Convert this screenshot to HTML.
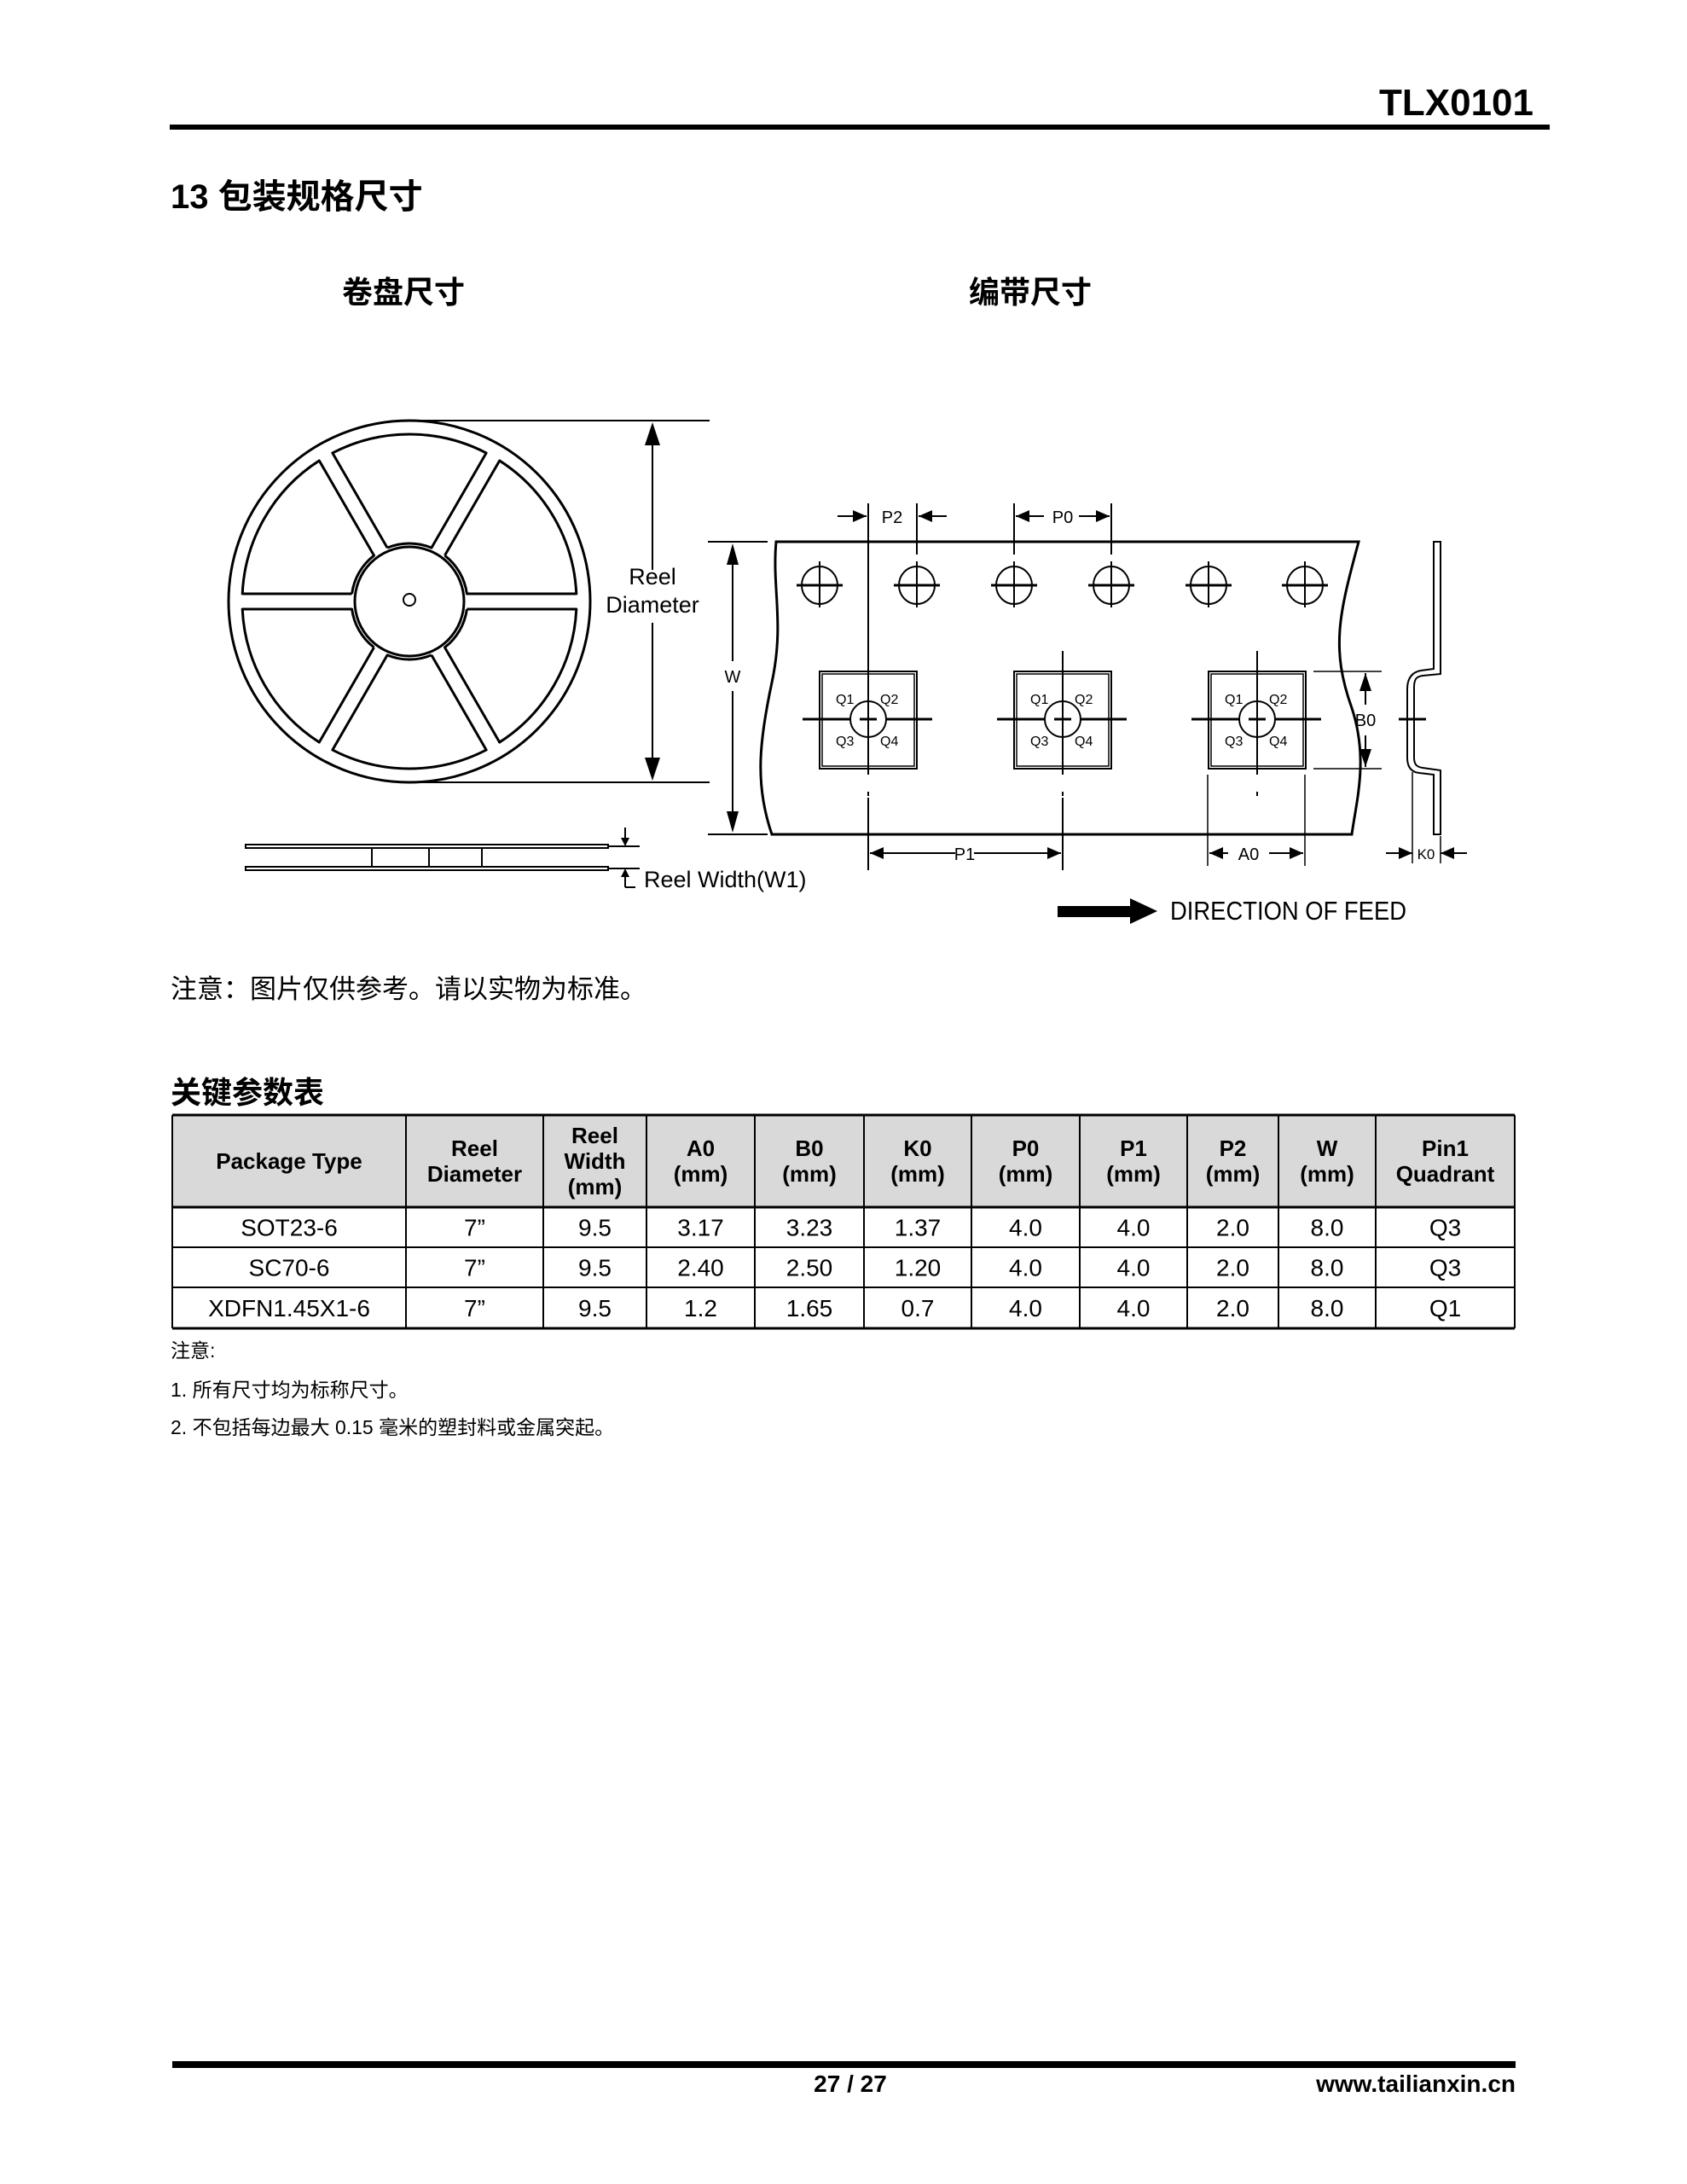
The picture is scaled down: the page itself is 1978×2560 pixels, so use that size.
<!DOCTYPE html>
<html><head><meta charset="utf-8">
<style>
html,body{margin:0;padding:0;background:#fff}
svg{display:block}
text{font-family:"Liberation Sans","Noto Sans CJK SC",sans-serif;fill:#000}
.b{font-weight:bold}
</style></head>
<body>
<svg id="s" xmlns="http://www.w3.org/2000/svg" width="1978" height="2560" viewBox="0 0 1978 2560">
<rect width="1978" height="2560" fill="#fff"/>
<text x="1798" y="135" text-anchor="end" class="b" font-size="44">TLX0101</text>
<rect x="199" y="146" width="1618" height="6" fill="#000"/>
<text x="200" y="244" class="b" font-size="40">13 包装规格尺寸</text>
<text x="473" y="355" text-anchor="middle" class="b" font-size="36">卷盘尺寸</text>
<text x="1208" y="355" text-anchor="middle" class="b" font-size="36">编带尺寸</text>

<g id="reel" fill="none" stroke="#000" stroke-width="3"></g>
<g stroke="#000" stroke-width="2" fill="none">
<line x1="480" y1="493" x2="832" y2="493"/>
<line x1="480" y1="917" x2="832" y2="917"/>
<line x1="765" y1="520" x2="765" y2="668"/>
<line x1="765" y1="730" x2="765" y2="890"/>
</g>
<polygon points="765,495 756,522 774,522" fill="#000"/>
<polygon points="765,915 756,888 774,888" fill="#000"/>
<text x="765" y="685" text-anchor="middle" font-size="27">Reel</text>
<text x="765" y="718" text-anchor="middle" font-size="27">Diameter</text>
<g stroke="#000" stroke-width="2" fill="none">
<rect x="288" y="990" width="425" height="4"/>
<rect x="288" y="1016" width="425" height="4"/>
<line x1="436" y1="994" x2="436" y2="1016"/>
<line x1="503" y1="994" x2="503" y2="1016"/>
<line x1="565" y1="994" x2="565" y2="1016"/>
<line x1="713" y1="992" x2="750" y2="992"/>
<line x1="713" y1="1018" x2="750" y2="1018"/>
<line x1="733" y1="970" x2="733" y2="990"/>
<line x1="733" y1="1020" x2="733" y2="1040"/>
<line x1="733" y1="1040" x2="745" y2="1040"/>
</g>
<polygon points="733,992 728,982 738,982" fill="#000"/>
<polygon points="733,1018 728,1028 738,1028" fill="#000"/>
<text x="755" y="1040" font-size="27">Reel Width(W1)</text>

<g stroke="#000" stroke-width="3" fill="none">
<path d="M910,635 L1593,635 C1570,720 1560,760 1585,830 C1605,890 1590,940 1585,978 L905,978 C885,920 890,870 905,800 C920,730 905,690 910,635 Z"/>
</g>
<g id="tape" stroke="#000" fill="none"></g>
<g stroke="#000" stroke-width="2">
<line x1="830" y1="635" x2="900" y2="635"/>
<line x1="830" y1="978" x2="900" y2="978"/>
<line x1="859" y1="660" x2="859" y2="775"/>
<line x1="859" y1="810" x2="859" y2="955"/>
</g>
<polygon points="859,637 852,662 866,662" fill="#000"/>
<polygon points="859,976 852,951 866,951" fill="#000"/>
<text x="859" y="800" text-anchor="middle" font-size="20">W</text>
<rect x="1240" y="1062" width="85" height="13" fill="#000"/>
<polygon points="1325,1053 1357,1068 1325,1083" fill="#000"/>
<text x="1372" y="1078" font-size="31" textLength="277" lengthAdjust="spacingAndGlyphs">DIRECTION OF FEED</text>

<text x="200" y="1170" font-size="31">注意：图片仅供参考。请以实物为标准。</text>
<text x="200" y="1293" class="b" font-size="36">关键参数表</text>

<g id="tbl"></g>

<text x="200" y="1591" font-size="23">注意:</text>
<text x="200" y="1637" font-size="23">1. 所有尺寸均为标称尺寸。</text>
<text x="200" y="1681" font-size="23">2. 不包括每边最大 0.15 毫米的塑封料或金属突起。</text>

<rect x="202" y="2416" width="1575" height="8" fill="#000"/>
<text x="997" y="2452" text-anchor="middle" class="b" font-size="28">27 / 27</text>
<text x="1777" y="2452" text-anchor="end" class="b" font-size="28">www.tailianxin.cn</text>
</svg>
<script>
var NS="http://www.w3.org/2000/svg";
function el(p,t,a,txt){var e=document.createElementNS(NS,t);for(var k in a)e.setAttribute(k,a[k]);if(txt!==undefined)e.textContent=txt;p.appendChild(e);return e;}
var r=document.getElementById('reel'),cx=480,cy=705;
el(r,'circle',{cx:cx,cy:cy,r:212});
el(r,'circle',{cx:cx,cy:cy,r:64});
var hw=9,ri=68,ro=196;
for(var i=0;i<6;i++){
 var a0=i*60*Math.PI/180,a1=(i+1)*60*Math.PI/180;
 var di=Math.asin(hw/ri),dO=Math.asin(hw/ro);
 var p1=[cx+ri*Math.cos(a0+di),cy+ri*Math.sin(a0+di)],
     p2=[cx+ro*Math.cos(a0+dO),cy+ro*Math.sin(a0+dO)],
     p3=[cx+ro*Math.cos(a1-dO),cy+ro*Math.sin(a1-dO)],
     p4=[cx+ri*Math.cos(a1-di),cy+ri*Math.sin(a1-di)];
 el(r,'path',{d:'M'+p1+' L'+p2+' A'+ro+','+ro+' 0 0 1 '+p3+' L'+p4+' A'+ri+','+ri+' 0 0 0 '+p1,'stroke-linejoin':'round'});
}
el(r,'circle',{cx:cx,cy:cy-2,r:7,'stroke-width':2});
var t=document.getElementById('tape');
[961,1075,1189,1303,1417,1530].forEach(function(x){
 el(t,'ellipse',{cx:x,cy:686,rx:21,ry:22,'stroke-width':2});
 el(t,'line',{x1:x-27,y1:686,x2:x+27,y2:686,'stroke-width':3});
 el(t,'line',{x1:x,y1:658,x2:x,y2:712,'stroke-width':2});
});
[1018,1246,1474].forEach(function(x){
 el(t,'rect',{x:x-57,y:787,width:114,height:114,'stroke-width':2});
 el(t,'rect',{x:x-54,y:790,width:108,height:108,'stroke-width':1.5});
 el(t,'circle',{cx:x,cy:843,r:21,'stroke-width':2});
 el(t,'line',{x1:x-77,y1:843,x2:x-21,y2:843,'stroke-width':3});
 el(t,'line',{x1:x+21,y1:843,x2:x+75,y2:843,'stroke-width':3});
 el(t,'line',{x1:x-10,y1:843,x2:x+10,y2:843,'stroke-width':3});
 el(t,'line',{x1:x,y1:763,x2:x,y2:908,'stroke-width':2});
 el(t,'line',{x1:x,y1:928,x2:x,y2:933,'stroke-width':2});
 [['Q1',-38,825],['Q2',14,825],['Q3',-38,874],['Q4',14,874]].forEach(function(q){
  el(t,'text',{x:x+q[1],y:q[2],'font-size':16,stroke:'none'},q[0]);
 });
});
function ln(x1,y1,x2,y2,w){el(t,'line',{x1:x1,y1:y1,x2:x2,y2:y2,'stroke-width':w||2});}
ln(1018,590,1018,840);ln(1018,935,1018,1020);
ln(1075,590,1075,650);ln(1189,590,1189,650);ln(1303,590,1303,650);
ln(1246,935,1246,1020);
ln(1416,908,1416,1015,1.5);ln(1530,908,1530,1015,1.5);
ln(1540,787,1620,787,1.5);ln(1540,901,1620,901,1.5);
function arr(x,y,dir){var d=dir*16;el(t,'polygon',{points:x+','+y+' '+(x-d)+','+(y-7)+' '+(x-d)+','+(y+7),fill:'#000',stroke:'none'});}
ln(982,605,1016,605);arr(1016,605,1);ln(1077,605,1110,605);arr(1077,605,-1);
el(t,'text',{x:1046,y:613,'font-size':20,'text-anchor':'middle',stroke:'none'},'P2');
ln(1191,605,1224,605);arr(1191,605,-1);ln(1265,605,1301,605);arr(1301,605,1);
el(t,'text',{x:1246,y:613,'font-size':20,'text-anchor':'middle',stroke:'none'},'P0');
ln(1020,1000,1120,1000);arr(1020,1000,-1);ln(1142,1000,1244,1000);arr(1244,1000,1);
el(t,'text',{x:1131,y:1008,'font-size':20,'text-anchor':'middle',stroke:'none'},'P1');
ln(1418,1000,1440,1000);arr(1418,1000,-1);ln(1488,1000,1528,1000);arr(1528,1000,1);
el(t,'text',{x:1464,y:1008,'font-size':20,'text-anchor':'middle',stroke:'none'},'A0');
ln(1601,789,1601,826);
el(t,'polygon',{points:'1601,789 1594,810 1608,810',fill:'#000',stroke:'none'});
ln(1601,862,1601,899);
el(t,'polygon',{points:'1601,899 1594,878 1608,878',fill:'#000',stroke:'none'});
el(t,'text',{x:1601,y:851,'font-size':20,'text-anchor':'middle',stroke:'none'},'B0');
// side profile
el(t,'path',{d:'M1681,635 L1689,635 L1689,790 L1668,792 C1660,793 1658,797 1658,806 L1658,888 C1658,896 1661,899 1668,900 L1689,903 L1689,978 L1681,978 L1681,908 L1664,906 C1654,905 1650,898 1650,888 L1650,808 C1650,796 1655,788 1666,786 L1681,784 Z','stroke-width':2});
ln(1640,843,1672,843,3);
ln(1656,905,1656,1012,1.5);ln(1689,980,1689,1012,1.5);
ln(1625,1000,1656,1000);arr(1656,1000,1);ln(1689,1000,1720,1000);arr(1689,1000,-1);
el(t,'text',{x:1672,y:1007,'font-size':17,'text-anchor':'middle',stroke:'none'},'K0');
var g=document.getElementById('tbl');
var xs=[202,476,637,758,885,1013,1139,1266,1392,1499,1613,1776];
var ys=[1307,1415,1462,1509,1557];
el(g,'rect',{x:202,y:1307,width:1574,height:108,fill:'#d9d9d9'});
ys.forEach(function(y,i){el(g,'line',{x1:202,y1:y,x2:1776,y2:y,stroke:'#000','stroke-width':(i==0||i==4||i==1)?3:2});});
xs.forEach(function(x){el(g,'line',{x1:x,y1:1307,x2:x,y2:1557,stroke:'#000','stroke-width':2});});
var hd=[['Package Type'],['Reel','Diameter'],['Reel','Width','(mm)'],['A0','(mm)'],['B0','(mm)'],['K0','(mm)'],['P0','(mm)'],['P1','(mm)'],['P2','(mm)'],['W','(mm)'],['Pin1','Quadrant']];
hd.forEach(function(h,i){var cxx=(xs[i]+xs[i+1])/2;var n=h.length;var y0=1361-(n-1)*15+9;
 h.forEach(function(s,j){el(g,'text',{x:cxx,y:y0+j*30,'font-size':26,'font-weight':'bold','text-anchor':'middle'},s);});});
var rows=[['SOT23-6','7”','9.5','3.17','3.23','1.37','4.0','4.0','2.0','8.0','Q3'],
['SC70-6','7”','9.5','2.40','2.50','1.20','4.0','4.0','2.0','8.0','Q3'],
['XDFN1.45X1-6','7”','9.5','1.2','1.65','0.7','4.0','4.0','2.0','8.0','Q1']];
rows.forEach(function(r,ri){var yy=(ys[ri+1]+ys[ri+2])/2+10;
 r.forEach(function(s,i){el(g,'text',{x:(xs[i]+xs[i+1])/2,y:yy,'font-size':28,'text-anchor':'middle'},s);});});
</script>
</body></html>
